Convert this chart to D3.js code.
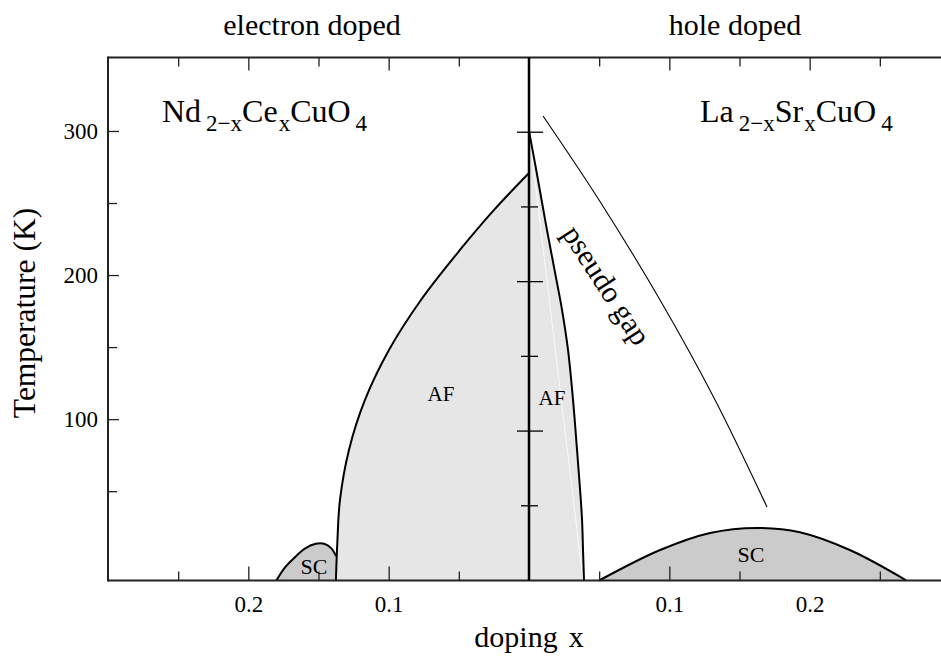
<!DOCTYPE html>
<html><head><meta charset="utf-8">
<script src="https://cdn.jsdelivr.net/npm/d3@7"></script>
<style>html,body{margin:0;padding:0;background:#fff;}svg{display:block;font-family:"Liberation Serif","Times New Roman",serif;}</style>
</head><body><svg id="c" width="941" height="657"></svg>
<script>
// ---------- data ----------
// electron-doped side (doping x, temperature K)
const eAF_x = [0.1376, 0.1365, 0.1347, 0.1283, 0.1169, 0.0998, 0.0770, 0.0492, 0.0249, 0];
const eAF_T = [-12, 16.1, 43.9, 78.6, 113.3, 148.0, 182.7, 217.4, 245.2, 270.8];
const eSC_x = [0.180, 0.174, 0.167, 0.160, 0.152, 0.146, 0.141, 0.1375, 0.1376];
const eSC_T = [-12, -3, 4, 10, 13.5, 13.5, 10.5, 5, -12];
// hole-doped side
const hAF_x = [0, 0.0057, 0.0121, 0.0185, 0.0235, 0.0278, 0.0314, 0.0342, 0.0364, 0.0378, 0.0385, 0.0392];
const hAF_T = [300, 270, 235, 202, 176, 148, 113, 79, 51, 30, 9, -12];
const hAFinner_x = [0, 0.0385];
const hAFinner_T = [300, -12];
const pg_x = [0.0100, 0.0499, 0.0934, 0.1326, 0.1696];
const pg_T = [310.4, 252.1, 182.7, 113.3, 39.0];
const hSC_x = [0.050, 0.093, 0.129, 0.1625, 0.193, 0.229, 0.269];
const hSC_T = [-12, 9, 21, 24.5, 21.5, 9, -12];
// ticks
const dopMinor = [0.05, 0.15, 0.25];
const dopMajor = [0.1, 0.2];
const dopLabels = ["0.1", "0.2"];
const holeBottomMinor = [0.05, 0.15, 0.25];
const tMinor = [50, 150, 250];
const tMajor = [100, 200, 300];
const tLabels = ["100", "200", "300"];
const cMajor = [1, 3, 5];
const cMinor = [2, 4, 6];
const Tmin = -12, Tmax = 351;

// ---------- layout ----------
const svg = d3.select("#c");
const XL = 108, XC = 529, XR = 950, YT = 57.5, YB = 580.5;
const xE = d3.scaleLinear().domain([0, 0.3]).range([XC, XL]);
const xH = d3.scaleLinear().domain([0, 0.3]).range([XC, XR]);
const y = d3.scaleLinear().domain([Tmin, Tmax]).range([YB, YT]);
const yc = d3.scaleLinear().domain([0, 7]).range([YT, YB]);

const zip = (a, b) => a.map((v, i) => [v, b[i]]);
const lineE = d3.line().x(d => xE(d[0])).y(d => y(d[1])).curve(d3.curveCatmullRom);
const lineH = d3.line().x(d => xH(d[0])).y(d => y(d[1])).curve(d3.curveCatmullRom);
const lineHlin = d3.line().x(d => xH(d[0])).y(d => y(d[1]));

const AF = "#e6e6e6", SC = "#cbcbcb";

// fills
const eAF = zip(eAF_x, eAF_T);
svg.append("path").attr("d", lineE(eAF) + `L${xE(0)},${y(Tmin)}Z`).attr("fill", AF);
const hAF = zip(hAF_x, hAF_T);
svg.append("path").attr("d", lineH(hAF) + `L${xH(0)},${y(Tmin)}Z`).attr("fill", AF);
const eSC = zip(eSC_x, eSC_T);
svg.append("path").attr("d", lineE(eSC) + "Z").attr("fill", SC);
const hSC = zip(hSC_x, hSC_T);
svg.append("path").attr("d", lineH(hSC) + "Z").attr("fill", SC);

// inner faint line
svg.append("path").attr("d", lineHlin(zip(hAFinner_x, hAFinner_T)))
  .attr("stroke", "#fafafa").attr("stroke-width", 1).attr("fill", "none");

// boundaries
const bnd = (d) => svg.append("path").attr("d", d).attr("fill", "none").attr("stroke", "#000").attr("stroke-width", 2);
bnd(lineE(eAF));
bnd(lineH(hAF));
bnd(lineE(eSC.slice(0, -1)));
bnd(lineH(hSC));
svg.append("path").attr("d", lineH(zip(pg_x, pg_T))).attr("fill", "none").attr("stroke", "#000").attr("stroke-width", 1.1);

// frame
const fr = svg.append("g").attr("stroke", "#222").attr("stroke-width", 2);
fr.append("line").attr("x1", XL).attr("x2", 941).attr("y1", YT).attr("y2", YT);
fr.append("line").attr("x1", XL).attr("x2", 941).attr("y1", YB).attr("y2", YB);
fr.append("line").attr("x1", XL).attr("x2", XL).attr("y1", YT - 1).attr("y2", YB + 1);
svg.append("line").attr("x1", XC).attr("x2", XC).attr("y1", YT).attr("y2", YB)
  .attr("stroke", "#000").attr("stroke-width", 2.5);

// axes
const clean = g => { g.attr("font-size", 23).attr("font-family", "Liberation Serif"); g.select(".domain").remove(); g.selectAll("line").attr("stroke", "#222").attr("stroke-width", 1.3); g.selectAll("text").attr("fill", "#000"); };
// bottom
svg.append("g").attr("transform", `translate(0,${YB})`)
  .call(d3.axisBottom(xE).tickValues(dopMajor).tickSize(-14).tickPadding(15).tickFormat((d, i) => dopLabels[i])).call(clean);
svg.append("g").attr("transform", `translate(0,${YB})`)
  .call(d3.axisBottom(xE).tickValues(dopMinor).tickSize(-9).tickFormat("")).call(clean);
svg.append("g").attr("transform", `translate(0,${YB})`)
  .call(d3.axisBottom(xH).tickValues([0.1]).tickSize(-14).tickPadding(15).tickFormat(() => dopLabels[0])).call(clean);
svg.append("g").attr("transform", `translate(0,${YB})`)
  .call(d3.axisBottom(xH).tickValues([0.2]).tickSize(0).tickPadding(15).tickFormat(() => dopLabels[1])).call(clean);
svg.append("g").attr("transform", `translate(0,${YB})`)
  .call(d3.axisBottom(xH).tickValues(holeBottomMinor).tickSize(-9).tickFormat("")).call(clean);
// top
svg.append("g").attr("transform", `translate(0,${YT})`)
  .call(d3.axisTop(xE).tickValues(dopMajor).tickSize(-13).tickFormat("")).call(clean);
svg.append("g").attr("transform", `translate(0,${YT})`)
  .call(d3.axisTop(xE).tickValues(dopMinor).tickSize(-9).tickFormat("")).call(clean);
svg.append("g").attr("transform", `translate(0,${YT})`)
  .call(d3.axisTop(xH).tickValues(dopMajor).tickSize(-13).tickFormat("")).call(clean);
svg.append("g").attr("transform", `translate(0,${YT})`)
  .call(d3.axisTop(xH).tickValues(dopMinor).tickSize(-9).tickFormat("")).call(clean);
// left
svg.append("g").attr("transform", `translate(${XL},0)`)
  .call(d3.axisLeft(y).tickValues(tMajor).tickSize(-11).tickPadding(10).tickFormat((d, i) => tLabels[i])).call(clean);
svg.append("g").attr("transform", `translate(${XL},0)`)
  .call(d3.axisLeft(y).tickValues(tMinor).tickSize(-9).tickFormat("")).call(clean);
// center ticks
const ct = svg.append("g").attr("stroke", "#000").attr("stroke-width", 1.3);
ct.selectAll(".cM").data(cMajor).join("line").attr("x1", XC - 12).attr("x2", XC + 14).attr("y1", d => yc(d)).attr("y2", d => yc(d));
ct.selectAll(".cm").data(cMinor).join("line").attr("x1", XC - 8).attr("x2", XC + 9).attr("y1", d => yc(d)).attr("y2", d => yc(d));

// labels
const txt = (x, yy, s, size, anchor) => svg.append("text").attr("x", x).attr("y", yy).attr("font-size", size)
  .attr("text-anchor", anchor || "middle").attr("fill", "#000").text(s);
txt(312, 35, "electron doped", 30);
txt(735, 35, "hole doped", 30);
const dx = svg.append("text").attr("x", XC).attr("y", 647).attr("font-size", 30).attr("text-anchor", "middle");
dx.append("tspan").text("doping");
dx.append("tspan").attr("dx", 11).text("x");
svg.append("text").attr("transform", "translate(35,313) rotate(-90)").attr("font-size", 31.5)
  .attr("text-anchor", "middle").text("Temperature (K)");
txt(441, 401, "AF", 21);
txt(552, 405, "AF", 21);
txt(314, 574, "SC", 22);
txt(751, 562, "SC", 22);
svg.append("text").attr("transform", "translate(607,285) rotate(57)").attr("font-size", 30)
  .attr("text-anchor", "middle").attr("dominant-baseline", "central").text("pseudo gap");

// formulas
const formula = (x, yy, parts) => {
  const t = svg.append("text").attr("x", x).attr("y", yy).attr("font-size", 32);
  let sub = false;
  parts.forEach(p => {
    const s = t.append("tspan").text(p[0]);
    if (p[1]) { s.attr("font-size", 23).attr("dy", 9).attr("dx", p[2] || 0); sub = true; }
    else if (sub) { s.attr("dy", -9); sub = false; }
  });
};
formula(162, 122, [["Nd"], ["2\u2212x", 1, 5], ["Ce"], ["x", 1, 1], ["CuO"], ["4", 1, 5]]);
formula(700, 122, [["La"], ["2\u2212x", 1, 5], ["Sr"], ["x", 1, 1], ["CuO"], ["4", 1, 5]]);
</script></body></html>
